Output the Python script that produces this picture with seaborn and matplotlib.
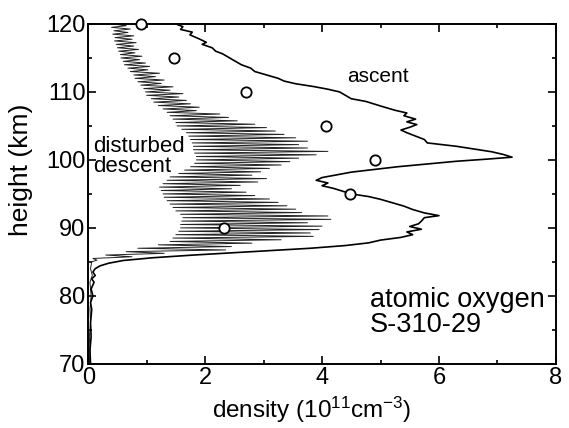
import matplotlib
matplotlib.use("Agg")
import matplotlib.pyplot as plt
import numpy as np
import pandas as pd
import seaborn as sns

# ascent profile (height km, density 1e11 cm^-3)
asc_h = [120.0, 119.6, 119.2, 118.8, 118.4, 117.8, 117.3, 117.0, 116.5, 116.0,
         115.6, 115.0, 114.6, 114.0, 113.5, 113.0, 112.5, 112.0, 111.6, 111.2,
         110.8, 110.4, 110.0, 109.5, 109.0, 108.6, 108.2, 107.8, 107.3, 106.9,
         106.5, 106.0, 105.6, 105.2, 104.8, 104.4, 104.0, 103.5, 103.0, 102.5,
         102.0, 101.6, 101.2, 100.8, 100.4, 100.1, 99.8, 99.4, 99.0, 98.6,
         98.2, 97.8, 97.4, 97.0, 96.6, 96.2, 95.8, 95.4, 95.0, 94.6,
         94.2, 93.7, 93.2, 92.7, 92.2, 91.8, 91.5, 91.0, 90.6, 90.2,
         89.8, 89.4, 89.0, 88.6, 88.2, 87.8, 87.4, 87.0, 86.6, 86.3,
         86.0, 85.6, 85.2, 84.8, 84.4, 84.0, 83.5, 83.0, 82.5, 82.0,
         81.0, 80.0, 79.0, 78.0, 76.0, 74.0, 72.0, 70.0]
asc_x = [1.50, 1.62, 1.58, 1.78, 1.74, 1.90, 2.02, 1.95, 2.12, 2.18,
         2.30, 2.42, 2.50, 2.62, 2.78, 2.85, 3.05, 3.25, 3.35, 3.55,
         3.85, 4.10, 4.30, 4.40, 4.50, 4.75, 4.90, 5.05, 5.25, 5.45,
         5.40, 5.60, 5.45, 5.62, 5.50, 5.35, 5.45, 5.60, 5.75, 5.80,
         6.30, 6.60, 6.90, 7.10, 7.25, 6.80, 6.30, 5.80, 5.30, 4.90,
         4.50, 4.25, 4.00, 3.90, 4.10, 4.00, 4.20, 4.35, 4.50, 4.80,
         5.00, 5.20, 5.40, 5.55, 5.75, 6.00, 5.75, 5.70, 5.65, 5.50,
         5.70, 5.45, 5.55, 5.35, 5.00, 4.80, 4.40, 3.80, 3.00, 2.40,
         1.80, 1.10, 0.60, 0.35, 0.20, 0.12, 0.08, 0.12, 0.06, 0.10,
         0.05, 0.08, 0.04, 0.06, 0.04, 0.05, 0.03, 0.04]

# disturbed descent: left / right excursions of the oscillating profile
desc_h = [120.0, 119.5, 119.0, 118.5, 118.0, 117.5, 117.0, 116.5, 116.0, 115.5,
          115.0, 114.5, 114.0, 113.5, 113.0, 112.5, 112.0, 111.5, 111.0, 110.5,
          110.0, 109.5, 109.0, 108.5, 108.0, 107.5, 107.0, 106.5, 106.0, 105.5,
          105.0, 104.5, 104.0, 103.5, 103.0, 102.5, 102.0, 101.5, 101.0, 100.5,
          100.0, 99.5, 99.0, 98.5, 98.0, 97.5, 97.0, 96.5, 96.0, 95.5,
          95.0, 94.5, 94.0, 93.5, 93.0, 92.5, 92.0, 91.5, 91.0, 90.5,
          90.0, 89.5, 89.0, 88.5, 88.0, 87.5, 87.0, 86.5, 86.0, 85.5]
desc_lo = [0.42, 0.40, 0.44, 0.42, 0.46, 0.45, 0.48, 0.50, 0.52, 0.55,
           0.56, 0.60, 0.62, 0.68, 0.72, 0.78, 0.80, 0.85, 0.90, 0.95,
           0.98, 1.00, 1.08, 1.12, 1.20, 1.28, 1.35, 1.40, 1.45, 1.50,
           1.52, 1.60, 1.68, 1.72, 1.75, 1.78, 1.80, 1.80, 1.82, 1.85,
           1.85, 1.82, 1.75, 1.65, 1.55, 1.40, 1.35, 1.28, 1.22, 1.25,
           1.28, 1.30, 1.35, 1.40, 1.45, 1.50, 1.58, 1.62, 1.60, 1.58,
           1.58, 1.55, 1.50, 1.45, 1.40, 1.20, 0.85, 0.65, 0.30, 0.08]
desc_hi = [0.65, 0.72, 0.68, 0.78, 0.75, 0.82, 0.78, 0.86, 0.80, 0.92,
           0.88, 0.98, 1.05, 1.02, 1.22, 1.15, 1.30, 1.25, 1.45, 1.40,
           1.62, 1.55, 1.68, 1.75, 1.90, 1.85, 2.25, 2.40, 2.55, 2.85,
           3.05, 3.20, 3.35, 3.55, 3.75, 3.60, 3.75, 4.10, 3.90, 3.60,
           3.45, 3.30, 3.10, 2.95, 2.80, 3.05, 2.90, 2.60, 2.45, 2.70,
           2.85, 3.10, 3.25, 3.40, 3.55, 3.65, 4.10, 4.15, 3.75, 4.00,
           3.95, 3.80, 3.85, 3.30, 2.80, 2.45, 2.35, 1.30, 0.75, 0.15]
desc_tail_h = [85.0, 84.0, 83.0, 82.0, 80.0, 78.0, 76.0, 74.0, 72.0, 70.0]
desc_tail_x = [0.06, 0.04, 0.07, 0.03, 0.05, 0.03, 0.04, 0.02, 0.03, 0.02]

# model values (open circles)
model_h = [120, 115, 110, 105, 100, 95, 90]
model_x = [0.91, 1.47, 2.70, 4.07, 4.90, 4.48, 2.32]

sns.set_theme(style="ticks")
plt.rcParams['font.family'] = ['Liberation Sans', 'DejaVu Sans']
plt.rcParams['mathtext.fontset'] = 'custom'
plt.rcParams['mathtext.rm'] = 'Liberation Sans'
plt.rcParams['mathtext.it'] = 'Liberation Sans'
plt.rcParams['text.color'] = 'black'
plt.rcParams['axes.labelcolor'] = 'black'

fig = plt.figure(figsize=(5.69, 4.28), dpi=100)
ax = fig.add_axes([0.155, 0.150, 0.822, 0.794])

# zigzag through left/right excursions: left at each level, right half a step lower
zz_h, zz_x = [], []
for h, lo, hi in zip(desc_h, desc_lo, desc_hi):
    zz_h += [h, h - 0.25]
    zz_x += [lo, hi]
zz_h += desc_tail_h
zz_x += desc_tail_x
desc = pd.DataFrame({'height': zz_h, 'density': zz_x})
asc = pd.DataFrame({'height': asc_h, 'density': asc_x})
model = pd.DataFrame({'height': model_h, 'density': model_x})

sns.lineplot(data=desc, x='density', y='height', sort=False, estimator=None,
             color='#222222', linewidth=0.7, ax=ax)
sns.lineplot(data=asc, x='density', y='height', sort=False, estimator=None,
             color='black', linewidth=1.2, ax=ax)
sns.scatterplot(data=model, x='density', y='height', marker='o', s=55,
                facecolor='white', edgecolor='black', linewidth=1.3, zorder=5,
                clip_on=False, ax=ax)

ax.set_xlim(0, 8)
ax.set_ylim(70, 120)
ax.set_xticks([0, 2, 4, 6, 8])
ax.set_xticks([1, 3, 5, 7], minor=True)
ax.set_yticks([70, 80, 90, 100, 110, 120])
ax.set_yticks([75, 85, 95, 105, 115], minor=True)
ax.tick_params(which='both', direction='in', top=True, right=True, width=1.2,
               labelsize=17, colors='black', pad=2)
ax.tick_params(which='major', length=6)
ax.tick_params(which='minor', length=3)
for s in ax.spines.values():
    s.set_linewidth(1.4)
    s.set_color('black')

ax.set_xlabel('density (10$^{11}$cm$^{-3}$)', fontsize=17.5)
ax.xaxis.set_label_coords(0.477, -0.09)
ax.set_ylabel('height (km)', fontsize=19)
ax.yaxis.set_label_coords(-0.118, 0.57)

ax.text(4.95, 112.3, 'ascent', fontsize=15, ha='center', va='center')
ax.text(0.08, 100.5, 'disturbed\ndescent', fontsize=16, ha='left', va='center',
        linespacing=0.9)
ax.text(4.82, 77.5, 'atomic oxygen\nS-310-29', fontsize=19.5, ha='left',
        va='center', linespacing=0.95)

fig.savefig('out.png', dpi=100)
